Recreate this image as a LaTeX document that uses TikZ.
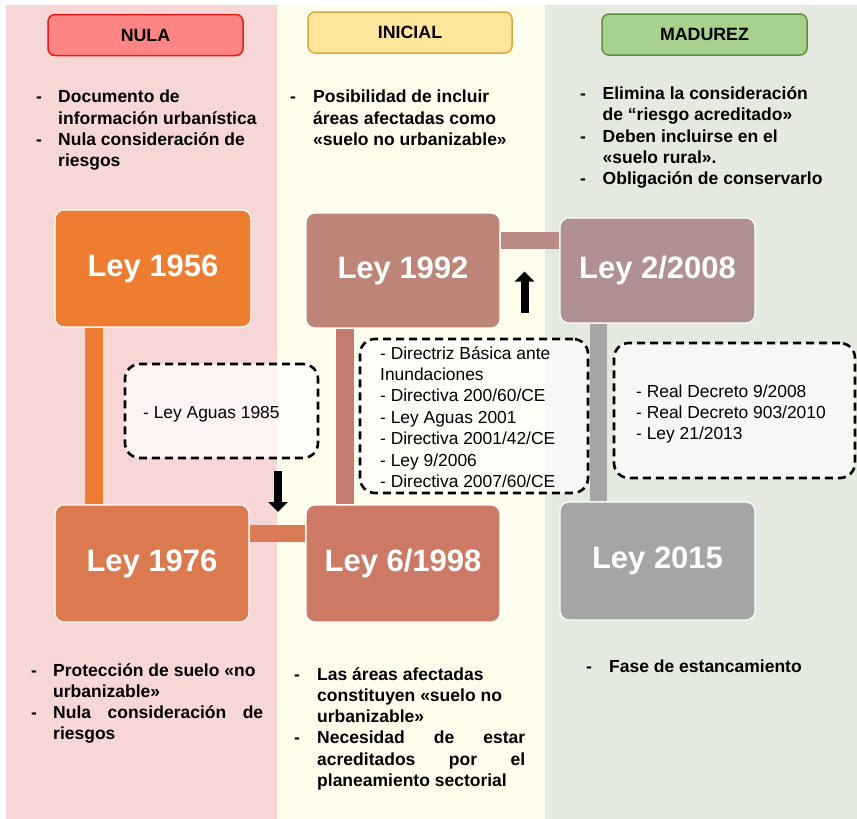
\documentclass[tikz,border=0pt]{standalone}
\usepackage{fontspec}
\setmainfont{Liberation Sans}
\usetikzlibrary{arrows.meta}
\definecolor{bgpink}{HTML}{F6D7D6}
\definecolor{bgcream}{HTML}{FFFDEB}
\definecolor{bggreen}{HTML}{E5EAE0}
\definecolor{hpinkf}{HTML}{FF8585}
\definecolor{hpinkd}{HTML}{F01818}
\definecolor{hyelf}{HTML}{FFE69A}
\definecolor{hyeld}{HTML}{D7A83E}
\definecolor{hgrnf}{HTML}{A9D18E}
\definecolor{hgrnd}{HTML}{5E8E42}
\definecolor{c1956}{HTML}{ED7D31}
\definecolor{c1976}{HTML}{DB7A4F}
\definecolor{c1992}{HTML}{BD8478}
\definecolor{c1998}{HTML}{CC7A65}
\definecolor{c2008}{HTML}{B09092}
\definecolor{c2015}{HTML}{A5A5A5}
\definecolor{bar2}{HTML}{DA7B55}
\definecolor{bar3}{HTML}{C57C6E}
\definecolor{bar4}{HTML}{B98A86}
\newcommand{\dsh}{-}
\begin{document}
\begin{tikzpicture}[x=1pt,y=-1pt,
  hdr/.style={rounded corners=7pt, line width=1.5pt, inner sep=0pt,
    font=\fontsize{17.8}{21}\selectfont\bfseries},
  lbox/.style={draw=white, line width=1.2pt, rounded corners=9pt, text=white,
    inner sep=0pt, font=\fontsize{31}{36}\selectfont\bfseries},
  bar/.style={line width=17.5pt},
  dbox/.style={draw=black, line width=2.6pt, dash pattern=on 8pt off 5pt,
    rounded corners=15pt, fill=white, fill opacity=0.7, inner sep=0pt},
  btxt/.style={inner sep=0pt, anchor=base west,
    font=\fontsize{17.5}{21.3}\selectfont\bfseries},
  stxt/.style={inner sep=0pt, anchor=base west,
    font=\fontsize{17.4}{21.4}\selectfont},
  blk/.style={line width=8pt, -{Triangle[width=19pt,length=10pt]}}
]
\useasboundingbox (0,0) rectangle (857,819);
\fill[white] (0,0) rectangle (857,819);
\fill[bgpink] (6,5) rectangle (277,819);
\fill[bgcream] (277,5) rectangle (545,819);
\fill[bggreen] (545,5) rectangle (857,819);

% headers
\node[hdr, fill=hpinkf, draw=hpinkd, minimum width=195pt, minimum height=41pt] (hnula) at (145.5,35) {NULA};
\node[hdr, fill=hyelf, draw=hyeld, minimum width=204pt, minimum height=41pt] (hinicial) at (410,32.5) {INICIAL};
\node[hdr, fill=hgrnf, draw=hgrnd, minimum width=205pt, minimum height=41pt] (hmadurez) at (704.5,34.5) {MADUREZ};

% top lists
\node[btxt] (t1) at (36,102.7) {\begin{tabular}[t]{@{}p{22pt}@{}l@{}}
\dsh & Documento de\\ & información urbanística\\ \dsh & Nula consideración de\\ & riesgos\end{tabular}};
\node[btxt] (t2) at (290,102.7) {\begin{tabular}[t]{@{}p{23pt}@{}l@{}}
\dsh & Posibilidad de incluir\\ & áreas afectadas como\\ & «suelo no urbanizable»\end{tabular}};
\node[btxt] (t3) at (580,99.5) {\begin{tabular}[t]{@{}p{22.5pt}@{}l@{}}
\dsh & Elimina la consideración\\ & de “riesgo acreditado»\\ \dsh & Deben incluirse en el\\ & «suelo rural».\\ \dsh & Obligación de conservarlo\end{tabular}};

% law boxes
\node[lbox, fill=c1956, minimum width=196pt, minimum height=117pt] (l1956) at (153,268.5) {Ley 1956};
\node[lbox, fill=c1976, minimum width=194pt, minimum height=117pt] (l1976) at (152,563.5) {Ley 1976};
\node[lbox, fill=c1992, minimum width=194pt, minimum height=115pt] (l1992) at (403,270.5) {Ley 1992};
\node[lbox, fill=c1998, minimum width=194pt, minimum height=117pt] (l1998) at (403,563.5) {Ley 6/1998};
\node[lbox, fill=c2008, minimum width=195pt, minimum height=105pt] (l2008) at (657.5,270.5) {Ley 2/2008};
\node[lbox, fill=c2015, minimum width=195pt, minimum height=118pt] (l2015) at (657.5,561) {Ley 2015};

% connecting bars
\coordinate (bx1) at (94,0);
\coordinate (by2) at (0,533.5);
\coordinate (bx3) at (345,0);
\coordinate (by4) at (0,240.5);
\coordinate (bx5) at (598.5,0);
\draw[bar, c1956] (l1956.south -| bx1) -- (l1976.north -| bx1);
\draw[bar, bar2] (l1976.east |- by2) -- (l1998.west |- by2);
\draw[bar, bar3] (l1998.north -| bx3) -- (l1992.south -| bx3);
\draw[bar, bar4] (l1992.east |- by4) -- (l2008.west |- by4);
\draw[bar, c2015] (l2008.south -| bx5) -- (l2015.north -| bx5);

% dashed boxes
\node[dbox, minimum width=193pt, minimum height=94pt] (dA) at (221.5,411) {};
\node[stxt] (tA) at (143,418) {- Ley Aguas 1985};
\node[dbox, minimum width=228pt, minimum height=154pt] (dB) at (474,416) {};
\node[stxt] (tB) at (380,359) {\begin{tabular}[t]{@{}l@{}}
- Directriz Básica ante\\ Inundaciones\\ - Directiva 200/60/CE\\ - Ley Aguas 2001\\ - Directiva 2001/42/CE\\ - Ley 9/2006\\ - Directiva 2007/60/CE\end{tabular}};
\node[dbox, minimum width=241pt, minimum height=135pt] (dC) at (734.5,410.5) {};
\node[stxt] (tC) at (636,397) {\begin{tabular}[t]{@{}l@{}}
- Real Decreto 9/2008\\ - Real Decreto 903/2010\\ - Ley 21/2013\end{tabular}};

% black arrows
\coordinate (aDs) at (278,471);
\coordinate (aDe) at (278,512);
\coordinate (aUs) at (524.5,313);
\coordinate (aUe) at (524.5,271.5);
\draw[blk] (aDs) -- (aDe);
\draw[blk] (aUs) -- (aUe);

% bottom lists
\node[btxt] (b1) at (31,676) {\begin{tabular}[t]{@{}p{22pt}@{}l@{}}
\dsh & Protección de suelo «no\\ & urbanizable»\\ \dsh & \makebox[210pt][s]{Nula consideración de}\\ & riesgos\end{tabular}};
\node[btxt] (b2) at (294,680) {\begin{tabular}[t]{@{}p{23pt}@{}l@{}}
\dsh & Las áreas afectadas\\ & constituyen «suelo no\\ & urbanizable»\\ \dsh & \makebox[208pt][s]{Necesidad de estar}\\ & \makebox[208pt][s]{acreditados por el}\\ & planeamiento sectorial\end{tabular}};
\node[btxt] (b3) at (586,672) {\begin{tabular}[t]{@{}p{23pt}@{}l@{}}
\dsh & Fase de estancamiento\end{tabular}};
\end{tikzpicture}
\end{document}
